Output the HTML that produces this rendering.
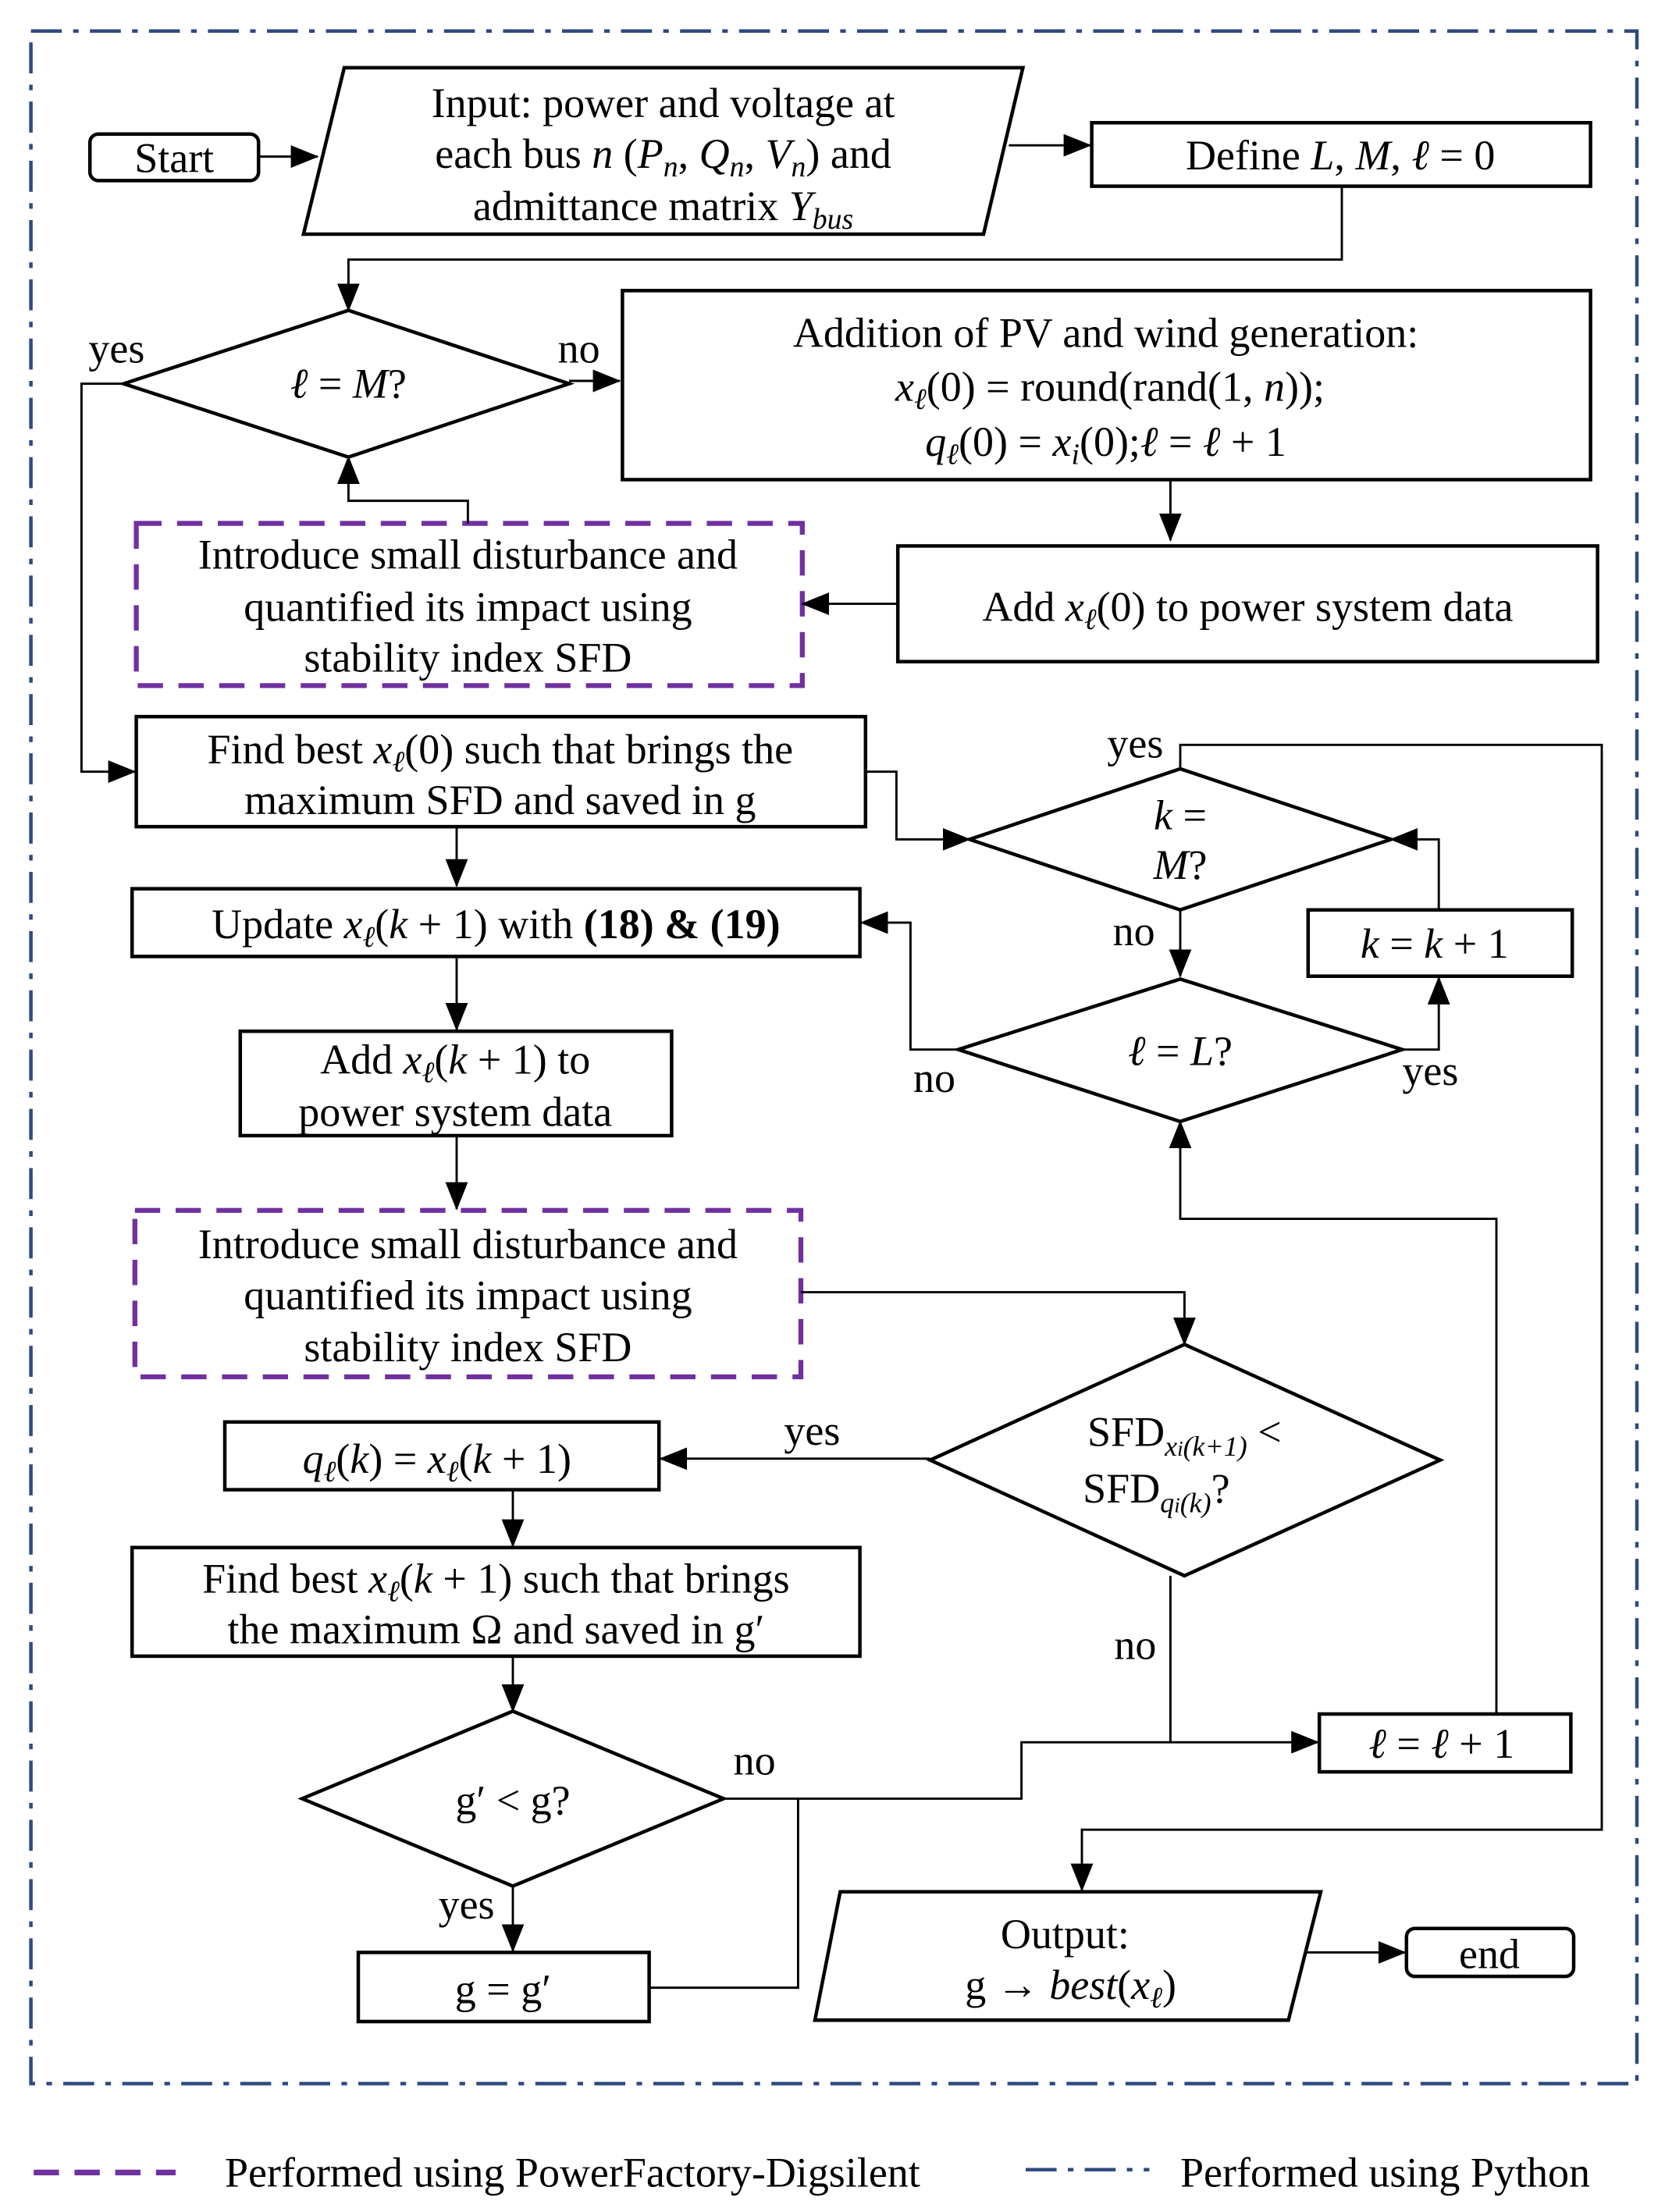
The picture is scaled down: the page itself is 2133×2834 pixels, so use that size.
<!DOCTYPE html>
<html><head><meta charset="utf-8"><style>
html,body{margin:0;padding:0;background:#fff}
svg{display:block}
text{font-family:"Liberation Serif",serif;font-size:30px;fill:#000}
.i{font-style:italic}
</style></head><body>
<svg width="2133" height="2834" viewBox="0 0 1185 1568" preserveAspectRatio="none" xmlns="http://www.w3.org/2000/svg">
<defs>
<marker id="b" markerWidth="20" markerHeight="20" refX="19" refY="10" orient="auto" markerUnits="userSpaceOnUse" viewBox="0 0 20 20"><path d="M0,2 L20,10 L0,18 z" fill="#000"/></marker></defs>
<rect x="0" y="0" width="1185" height="1568" fill="#fff"/>
<rect x="22" y="22" width="1143" height="1455" fill="none" stroke="#2e4b7f" stroke-width="2.5" stroke-dasharray="22,8,4,8"/>
<g fill="none" stroke="#000" stroke-width="2.5">
<rect x="64" y="95" width="120" height="33" rx="6"/>
<polygon points="245,48 728,48 700,166 216,166"/>
<rect x="777" y="87" width="355" height="45"/>
<polygon points="88,272 248,220 405,272 248,324"/>
<rect x="443" y="206" width="689" height="134"/>
<rect x="639" y="387" width="498" height="82"/>
<rect x="97" y="508" width="519" height="78"/>
<polygon points="690,595 840,545 990,595 840,645"/>
<polygon points="682,744 840,694 998,744 840,795"/>
<rect x="931" y="645" width="188" height="47"/>
<rect x="94" y="630" width="518" height="48"/>
<rect x="171" y="731" width="307" height="74"/>
<polygon points="662,1035 843,953 1025,1035 843,1117"/>
<rect x="160" y="1008" width="309" height="48"/>
<rect x="94" y="1097" width="518" height="77"/>
<polygon points="215,1275 365,1213 515,1275 365,1337"/>
<rect x="939" y="1215" width="179" height="41"/>
<rect x="255" y="1384" width="207" height="49"/>
<polygon points="598,1341 940,1341 917,1432 580,1432"/>
<rect x="1001" y="1367" width="119" height="34" rx="6"/>
</g>
<g fill="none" stroke="#7030a0" stroke-width="3.5" stroke-dasharray="18,11">
<rect x="97" y="371" width="474" height="115"/>
<rect x="96" y="858" width="474" height="118"/>
</g>
<g fill="none" stroke="#000" stroke-width="1.6">
<path d="M184,111 H226" marker-end="url(#b)"/>
<path d="M718,103 H776" marker-end="url(#b)"/>
<path d="M955,132 V184 H248 V220" marker-end="url(#b)"/>
<path d="M405,270 H441" marker-end="url(#b)"/>
<path d="M833,340 V383" marker-end="url(#b)"/>
<path d="M639,428 H571" marker-end="url(#b)"/>
<path d="M333,371 V355 H248 V324" marker-end="url(#b)"/>
<path d="M88,272 H58 V547 H96" marker-end="url(#b)"/>
<path d="M325,586 V628" marker-end="url(#b)"/>
<path d="M616,547 H638 V595 H690" marker-end="url(#b)"/>
<path d="M840,545 V528 H1140 V1297 H770 V1340" marker-end="url(#b)"/>
<path d="M840,645 V692" marker-end="url(#b)"/>
<path d="M682,744 H648 V654 H613" marker-end="url(#b)"/>
<path d="M998,744 H1024 V693" marker-end="url(#b)"/>
<path d="M1024,645 V595 H990" marker-end="url(#b)"/>
<path d="M325,678 V730" marker-end="url(#b)"/>
<path d="M325,805 V857" marker-end="url(#b)"/>
<path d="M570,916 H843 V953" marker-end="url(#b)"/>
<path d="M662,1034 H470" marker-end="url(#b)"/>
<path d="M365,1056 V1096" marker-end="url(#b)"/>
<path d="M365,1174 V1213" marker-end="url(#b)"/>
<path d="M515,1275 H727 V1235 H938" marker-end="url(#b)"/>
<path d="M833,1117 V1235"/>
<path d="M1065,1215 V864 H840 V795" marker-end="url(#b)"/>
<path d="M365,1337 V1383" marker-end="url(#b)"/>
<path d="M462,1409 H568 V1275"/>
<path d="M928,1384 H1000" marker-end="url(#b)"/>
</g>
<g text-anchor="middle">
<text x="124" y="122">Start</text>
<text x="472" y="83">Input: power and voltage at</text>
<text x="472" y="119">each bus <tspan class="i">n</tspan> (<tspan class="i">P<tspan font-size="21" dy="6">n</tspan></tspan><tspan dy="-6">, </tspan><tspan class="i">Q<tspan font-size="21" dy="6">n</tspan></tspan><tspan dy="-6">, </tspan><tspan class="i">V<tspan font-size="21" dy="6">n</tspan></tspan><tspan dy="-6">) and</tspan></text>
<text x="472" y="156">admittance matrix <tspan class="i">Y<tspan font-size="21" dy="6">bus</tspan></tspan></text>
<text x="954" y="120">Define <tspan class="i">L</tspan>, <tspan class="i">M</tspan>, <tspan class="i">ℓ</tspan> = 0</text>
<text x="248" y="282"><tspan class="i">ℓ</tspan> = <tspan class="i">M</tspan>?</text>
<text x="787" y="246">Addition of PV and wind generation:</text>
<text x="790" y="284"><tspan class="i">x<tspan font-size="21" dy="6">ℓ</tspan></tspan><tspan dy="-6">(0) = round(rand(1, </tspan><tspan class="i">n</tspan>));</text>
<text x="787" y="323"><tspan class="i">q<tspan font-size="21" dy="6">ℓ</tspan></tspan><tspan dy="-6">(0) = </tspan><tspan class="i">x<tspan font-size="21" dy="6">i</tspan></tspan><tspan dy="-6">(0);</tspan><tspan class="i">ℓ</tspan> = <tspan class="i">ℓ</tspan> + 1</text>
<text x="888" y="440">Add <tspan class="i">x<tspan font-size="21" dy="6">ℓ</tspan></tspan><tspan dy="-6">(0) to power system data</tspan></text>
<text x="333" y="403">Introduce small disturbance and</text>
<text x="333" y="440">quantified its impact using</text>
<text x="333" y="476">stability index SFD</text>
<text x="356" y="541">Find best <tspan class="i">x<tspan font-size="21" dy="6">ℓ</tspan></tspan><tspan dy="-6">(0) such that brings the</tspan></text>
<text x="356" y="577">maximum SFD and saved in g</text>
<text x="840" y="588"><tspan class="i">k</tspan> =</text>
<text x="840" y="623"><tspan class="i">M</tspan>?</text>
<text x="840" y="755"><tspan class="i">ℓ</tspan> = <tspan class="i">L</tspan>?</text>
<text x="1021" y="679"><tspan class="i">k</tspan> = <tspan class="i">k</tspan> + 1</text>
<text x="353" y="665">Update <tspan class="i">x<tspan font-size="21" dy="6">ℓ</tspan></tspan><tspan dy="-6">(</tspan><tspan class="i">k</tspan> + 1) with <tspan font-weight="bold">(18) &amp; (19)</tspan></text>
<text x="324" y="761">Add <tspan class="i">x<tspan font-size="21" dy="6">ℓ</tspan></tspan><tspan dy="-6">(</tspan><tspan class="i">k</tspan> + 1) to</text>
<text x="324" y="798">power system data</text>
<text x="333" y="892">Introduce small disturbance and</text>
<text x="333" y="928">quantified its impact using</text>
<text x="333" y="965">stability index SFD</text>
<text x="843" y="1025">SFD<tspan class="i" font-size="20" dy="7">x<tspan font-size="15">i</tspan>(k+1)</tspan><tspan dy="-7"> &lt;</tspan></text>
<text x="823" y="1065">SFD<tspan class="i" font-size="20" dy="7">q<tspan font-size="15">i</tspan>(k)</tspan><tspan dy="-7">?</tspan></text>
<text x="311" y="1044"><tspan class="i">q<tspan font-size="21" dy="6">ℓ</tspan></tspan><tspan dy="-6">(</tspan><tspan class="i">k</tspan>) = <tspan class="i">x<tspan font-size="21" dy="6">ℓ</tspan></tspan><tspan dy="-6">(</tspan><tspan class="i">k</tspan> + 1)</text>
<text x="353" y="1129">Find best <tspan class="i">x<tspan font-size="21" dy="6">ℓ</tspan></tspan><tspan dy="-6">(</tspan><tspan class="i">k</tspan> + 1) such that brings</text>
<text x="353" y="1165">the maximum Ω and saved in g′</text>
<text x="365" y="1286">g′ &lt; g?</text>
<text x="1026" y="1246"><tspan class="i">ℓ</tspan> = <tspan class="i">ℓ</tspan> + 1</text>
<text x="358" y="1420">g = g′</text>
<text x="758" y="1381">Output:</text>
<text x="762" y="1417">g → <tspan class="i">best</tspan>(<tspan class="i">x<tspan font-size="21" dy="6">ℓ</tspan></tspan><tspan dy="-6">)</tspan></text>
<text x="1060" y="1395">end</text>
</g>
<text x="63" y="257">yes</text>
<text x="397" y="257">no</text>
<text x="788" y="537">yes</text>
<text x="792" y="670">no</text>
<text x="650" y="774">no</text>
<text x="998" y="769">yes</text>
<text x="558" y="1024">yes</text>
<text x="793" y="1176">no</text>
<text x="522" y="1258">no</text>
<text x="312" y="1360">yes</text>
<line x1="24" y1="1540" x2="125" y2="1540" stroke="#7030a0" stroke-width="4" stroke-dasharray="18,11"/>
<text x="160" y="1550">Performed using PowerFactory-Digsilent</text>
<line x1="730" y1="1538" x2="818" y2="1538" stroke="#2e4b7f" stroke-width="2.5" stroke-dasharray="22,8,4,8"/>
<text x="840" y="1550">Performed using Python</text>
</svg>
</body></html>
